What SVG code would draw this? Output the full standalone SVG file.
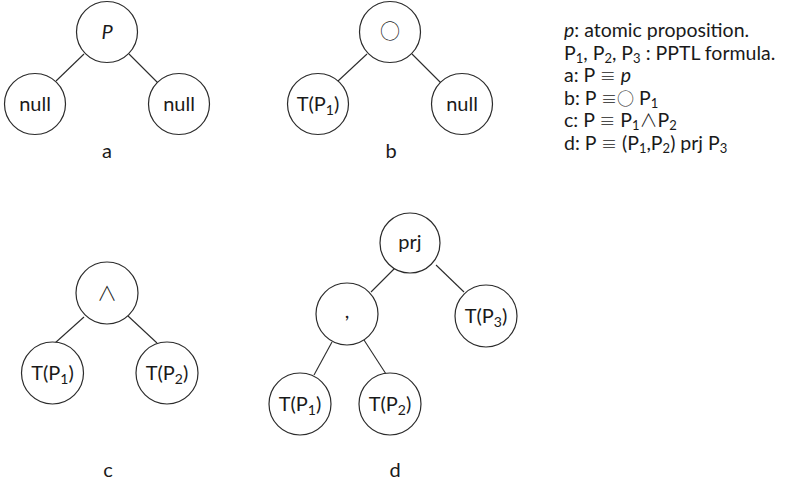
<svg xmlns="http://www.w3.org/2000/svg" width="793" height="484" viewBox="0 0 793 484">
<style>
.n{fill:#fff;stroke:#2b2b2b;stroke-width:1.2}
.e{stroke:#2b2b2b;stroke-width:1.1;fill:none}
text{font-family:Lato,"Open Sans","DejaVu Sans",sans-serif;font-size:20px;fill:#1a1a1a}
.c{text-anchor:middle}
.sym{font-family:"Noto Sans CJK SC","DejaVu Sans",sans-serif;font-weight:300}
.lg{font-size:19.5px}
</style>
<rect width="793" height="484" fill="#fff"/>
<g id="connectors">
<line class="e" x1="84" y1="54" x2="56" y2="81"/>
<line class="e" x1="129" y1="54" x2="158" y2="83"/>
<line class="e" x1="367" y1="54" x2="338" y2="81"/>
<line class="e" x1="412" y1="54" x2="441" y2="83"/>
<line class="e" x1="84" y1="317" x2="55" y2="343"/>
<line class="e" x1="128" y1="316" x2="157" y2="343"/>
<line class="e" x1="395" y1="268" x2="371" y2="292"/>
<line class="e" x1="436" y1="265" x2="464" y2="292"/>
<line class="e" x1="332" y1="342" x2="314" y2="375"/>
<line class="e" x1="364" y1="340" x2="386" y2="374"/>
</g>
<g id="a-root"><circle class="n" cx="107" cy="32" r="30.5"/><text class="c" x="107" y="39" font-style="italic">P</text></g>
<g id="a-left"><circle class="n" cx="35" cy="104" r="30.5"/><text class="c" x="35" y="111">null</text></g>
<g id="a-right"><circle class="n" cx="179" cy="104" r="30.5"/><text class="c" x="179" y="111">null</text></g>
<text class="c" x="107" y="158">a</text>
<g id="b-root"><circle class="n" cx="390" cy="32" r="30.5"/><text class="c sym" x="390" y="39" font-size="20">○</text></g>
<g id="b-left"><circle class="n" cx="318" cy="104" r="30.5"/><text class="c" x="318" y="111">T(P<tspan font-size="14" dy="4">1</tspan><tspan dy="-4">)</tspan></text></g>
<g id="b-right"><circle class="n" cx="462" cy="104" r="30.5"/><text class="c" x="462" y="111">null</text></g>
<text class="c" x="391" y="158">b</text>
<g id="c-root"><circle class="n" cx="107" cy="293" r="31"/><text class="c sym" x="107" y="301" font-size="24">∧</text></g>
<g id="c-left"><circle class="n" cx="52.5" cy="373" r="31"/><text class="c" x="52.5" y="380">T(P<tspan font-size="14" dy="4">1</tspan><tspan dy="-4">)</tspan></text></g>
<g id="c-right"><circle class="n" cx="167" cy="373" r="31"/><text class="c" x="167" y="380">T(P<tspan font-size="14" dy="4">2</tspan><tspan dy="-4">)</tspan></text></g>
<text class="c" x="108" y="477">c</text>
<g id="d-root"><circle class="n" cx="410" cy="243" r="30"/><text class="c" x="410" y="249">prj</text></g>
<g id="d-comma"><circle class="n" cx="347" cy="314" r="31"/><text class="c" x="347" y="318">,</text></g>
<g id="d-p3"><circle class="n" cx="486" cy="316" r="31"/><text class="c" x="486" y="323">T(P<tspan font-size="14" dy="4">3</tspan><tspan dy="-4">)</tspan></text></g>
<g id="d-p1"><circle class="n" cx="300" cy="404" r="31"/><text class="c" x="300" y="411">T(P<tspan font-size="14" dy="4">1</tspan><tspan dy="-4">)</tspan></text></g>
<g id="d-p2"><circle class="n" cx="390" cy="404" r="31"/><text class="c" x="390" y="411">T(P<tspan font-size="14" dy="4">2</tspan><tspan dy="-4">)</tspan></text></g>
<text class="c" x="395" y="477">d</text>
<g id="legend">
<text class="lg" x="564" y="37"><tspan font-style="italic">p</tspan>: atomic proposition.</text>
<text class="lg" x="564" y="59.5">P<tspan font-size="13" dy="3">1</tspan><tspan dy="-3">, P</tspan><tspan font-size="13" dy="3">2</tspan><tspan dy="-3">, P</tspan><tspan font-size="13" dy="3">3</tspan><tspan dy="-3"> : PPTL formula.</tspan></text>
<text class="lg" x="564" y="82">a: P <tspan class="sym" font-size="16">≡</tspan>  <tspan font-style="italic">p</tspan></text>
<text class="lg" x="564" y="104.5">b: P <tspan class="sym" font-size="16">≡</tspan><tspan class="sym" font-size="17">○</tspan> P<tspan font-size="13" dy="3">1</tspan></text>
<text class="lg" x="564" y="127">c: P <tspan class="sym" font-size="16">≡</tspan> P<tspan font-size="13" dy="3">1</tspan><tspan class="sym" font-size="18" dy="-3">∧</tspan>P<tspan font-size="13" dy="3">2</tspan></text>
<text class="lg" x="564" y="149.5">d: P <tspan class="sym" font-size="16">≡</tspan> (P<tspan font-size="13" dy="3">1</tspan><tspan dy="-3">,P</tspan><tspan font-size="13" dy="3">2</tspan><tspan dy="-3">) prj P</tspan><tspan font-size="13" dy="3">3</tspan></text>
</g>
</svg>
